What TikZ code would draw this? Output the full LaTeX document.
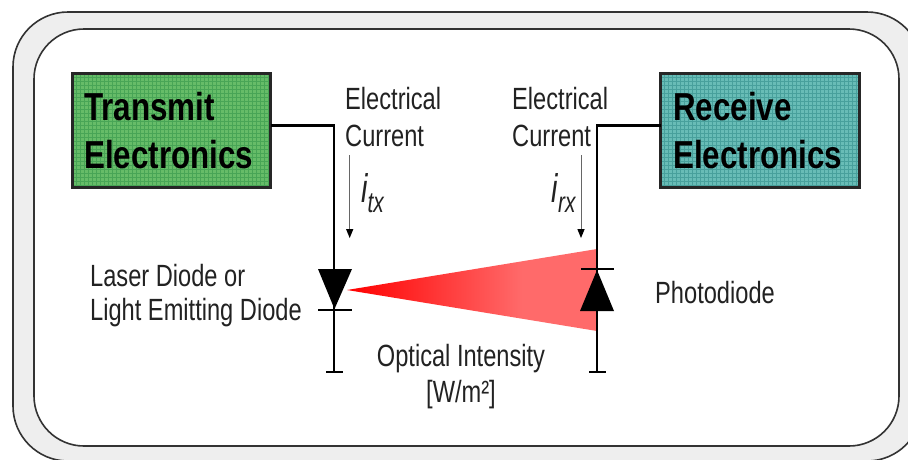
\documentclass[tikz,border=0pt]{standalone}
\usepackage{fontspec}
\setmainfont{Liberation Sans}
\newfontfamily\labfont[FakeStretch=0.77]{Liberation Sans}
\newfontfamily\namefont[FakeStretch=0.804]{Liberation Sans Bold}
\newfontfamily\curfont[FakeStretch=0.72]{Liberation Sans Italic}
\definecolor{bandfill}{HTML}{EEEEEE}
\definecolor{bandline}{HTML}{333333}
\definecolor{txbase}{HTML}{66BC68}
\definecolor{txgrid}{HTML}{48A556}
\definecolor{rxbase}{HTML}{68BCB6}
\definecolor{rxgrid}{HTML}{48A09C}
\definecolor{beamend}{HTML}{FF6A6A}
\definecolor{labelink}{HTML}{222222}
\pgfdeclarehorizontalshading{beamshade}{100bp}{color(0bp)=(red); color(25bp)=(red); color(60bp)=(beamend); color(100bp)=(beamend)}
\tikzset{
  x=1pt,y=-1pt,
  band/.style={draw=bandline,line width=1.6pt,rounded corners=55pt},
  wire/.style={draw=black,line width=2.8pt},
  boxedge/.style={draw=black!85,line width=3pt},
  boxname/.style={anchor=base west,inner sep=0pt,font=\fontsize{39}{39}\namefont},
  lab/.style={anchor=base west,inner sep=0pt,text=labelink,font=\fontsize{30.7}{30.7}\labfont},
  labc/.style={lab,anchor=base},
  cur/.style={anchor=base west,inner sep=0pt,text=labelink,font=\fontsize{40}{40}\curfont},
  curarrow/.style={draw=black!60,line width=1pt},
  head/.style={fill=black},
}
\begin{document}
\begin{tikzpicture}
\useasboundingbox (0,0) rectangle (908,459);
\fill[white] (0,0) rectangle (908,459);
\clip (0,0) rectangle (908,459);
% frame
\path[band,fill=bandfill] (13,12) rectangle (922,461);
\path[band,fill=white,rounded corners=50pt] (34,29) rectangle (899,446);
% boxes
\fill[txbase] (72.5,73.5) rectangle (270.5,187.5);
\fill[rxbase] (660.5,73.5) rectangle (859.5,187.5);
\begin{scope}
\clip (72.5,73.5) rectangle (270.5,187.5);
\foreach \i in {0,...,50} \draw[txgrid,line width=0.8pt] (72+4*\i,73) -- (72+4*\i,188);
\foreach \i in {0,...,29} \draw[txgrid,line width=0.8pt] (72,73+4*\i) -- (272,73+4*\i);
\end{scope}
\begin{scope}
\clip (660.5,73.5) rectangle (859.5,187.5);
\foreach \i in {0,...,50} \draw[rxgrid,line width=0.8pt] (660+4*\i,73) -- (660+4*\i,188);
\foreach \i in {0,...,29} \draw[rxgrid,line width=0.8pt] (660,73+4*\i) -- (860,73+4*\i);
\end{scope}
\node[boxedge,minimum width=198pt,minimum height=114pt,inner sep=0pt,outer sep=0pt,anchor=north west] (tx) at (72.5,73.5) {};
\node[boxedge,minimum width=199pt,minimum height=114pt,inner sep=0pt,outer sep=0pt,anchor=north west] (rx) at (660.5,73.5) {};
\node[boxname] (txa) at (84,120) {Transmit};
\node[boxname] (txb) at (84,168.5) {Electronics};
\node[boxname] (rxa) at (673,120) {Receive};
\node[boxname] (rxb) at (673,168.5) {Electronics};
% beam
\path[shading=beamshade] (347,290) -- (597,249) -- (597,331) -- cycle;
% wiring
\coordinate (tcorner) at (334,125.5);
\coordinate (tend) at (334,372);
\coordinate (rcorner) at (597,125.5);
\coordinate (rend) at (597,372);
\draw[wire] (tx.east |- tcorner) -- (tcorner) -- (tend);
\draw[wire] (rx.west |- rcorner) -- (rcorner) -- (rend);
% ground bars
\draw[wire] (326,372) -- (343,372);
\draw[wire] (589,372) -- (606,372);
% diodes
\fill[black] (318,269) -- (352,269) -- (334.5,309) -- cycle;
\draw[wire] (318,310) -- (352,310);
\fill[black] (580,311) -- (614,311) -- (597,270) -- cycle;
\draw[wire] (581,269) -- (614,269);
% current arrows
\coordinate (a1) at (349.7,155);
\coordinate (a2) at (349.7,232);
\coordinate (b1) at (581,155);
\coordinate (b2) at (581,232);
\draw[curarrow] (a1) -- (a2);
\draw[curarrow] (b1) -- (b2);
\fill[head] (346,229) -- (353.4,229) -- (349.7,238) -- cycle;
\fill[head] (577.3,229) -- (584.7,229) -- (581,238) -- cycle;
% labels
\node[lab] (l1) at (345,109.5) {Electrical};
\node[lab] (l2) at (345,146) {Current};
\node[lab] (l3) at (512,109.5) {Electrical};
\node[lab] (l4) at (512,146) {Current};
\node[cur] (itx) at (361,202) {i\raisebox{-10pt}{\fontsize{29}{29}\curfont tx}};
\node[cur] (irx) at (551.5,202) {i\raisebox{-10pt}{\fontsize{29}{29}\curfont rx}};
\node[lab] (l5) at (90,286) {Laser Diode or};
\node[lab] (l6) at (90,320) {Light Emitting Diode};
\node[lab] (l7) at (655,303) {Photodiode};
\node[labc] (l8) at (461,366) {Optical Intensity};
\node[labc] (l9) at (461,402) {[W/m²]};
\end{tikzpicture}
\end{document}
